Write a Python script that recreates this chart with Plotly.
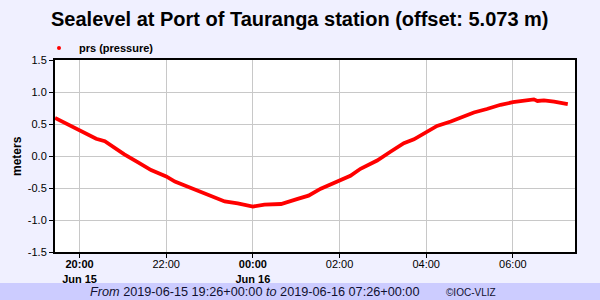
import plotly.graph_objects as go

# ---- data ----
times = [
    "2019-06-15 19:26", "2019-06-15 19:39", "2019-06-15 20:00", "2019-06-15 20:12",
    "2019-06-15 20:23", "2019-06-15 20:35", "2019-06-15 20:48", "2019-06-15 21:02",
    "2019-06-15 21:21", "2019-06-15 21:39", "2019-06-15 22:00", "2019-06-15 22:12",
    "2019-06-15 22:30", "2019-06-15 22:49", "2019-06-15 23:07", "2019-06-15 23:21",
    "2019-06-15 23:39", "2019-06-15 23:53", "2019-06-16 00:00", "2019-06-16 00:16",
    "2019-06-16 00:39", "2019-06-16 01:02", "2019-06-16 01:17", "2019-06-16 01:34",
    "2019-06-16 02:00", "2019-06-16 02:15", "2019-06-16 02:29", "2019-06-16 02:52",
    "2019-06-16 03:11", "2019-06-16 03:29", "2019-06-16 03:43", "2019-06-16 04:00",
    "2019-06-16 04:15", "2019-06-16 04:34", "2019-06-16 04:52", "2019-06-16 05:06",
    "2019-06-16 05:24", "2019-06-16 05:43", "2019-06-16 06:00", "2019-06-16 06:15",
    "2019-06-16 06:29", "2019-06-16 06:34", "2019-06-16 06:43", "2019-06-16 06:57",
    "2019-06-16 07:16",
]
sealevel = [
    0.595, 0.52, 0.40, 0.34,
    0.27, 0.23, 0.13, 0.025,
    -0.10, -0.22, -0.32, -0.40,
    -0.48, -0.57, -0.65, -0.71,
    -0.74, -0.77, -0.79, -0.76,
    -0.75, -0.67, -0.62, -0.51,
    -0.38, -0.31, -0.20, -0.07,
    0.07, 0.20, 0.26, 0.37,
    0.47, 0.54, 0.62, 0.68,
    0.735, 0.80, 0.84, 0.865,
    0.885, 0.86, 0.87, 0.85,
    0.81,
]
x_range = ["2019-06-15 19:26", "2019-06-16 07:26"]
x_tickvals = ["2019-06-15 20:00", "2019-06-15 22:00", "2019-06-16 00:00",
              "2019-06-16 02:00", "2019-06-16 04:00", "2019-06-16 06:00"]
x_ticktext = ["<b>20:00<br>Jun 15</b>", "22:00", "<b>00:00<br>Jun 16</b>",
              "02:00", "04:00", "06:00"]
y_tickvals = [-1.5, -1.0, -0.5, 0.0, 0.5, 1.0, 1.5]
y_ticktext = ["-1.5", "-1.0", "-0.5", "0.0", "0.5", "1.0", "1.5"]

title_text = "<b>Sealevel at Port of Tauranga station (offset: 5.073 m)</b>"
series_name = "<b>prs (pressure)</b>"
footer_text = "<i>From</i> 2019-06-15 19:26+00:00 <i>to</i> 2019-06-16 07:26+00:00"
credit_text = "©IOC-VLIZ"

FONT = "Liberation Sans, Arial, sans-serif"
BG = "#F0F0FF"
FOOT = "#CCCCFF"

W, H = 600, 300
L, R, T, B = 55, 25, 60, 48
PH = H - T - B  # plot height in px


def py(pix):
    """convert pixel y (from top) to paper y"""
    return (H - B - pix) / PH


def px(pix):
    return (pix - L) / (W - L - R)


fig = go.Figure()
fig.add_trace(go.Scatter(
    x=times, y=sealevel, mode="lines",
    line=dict(color="#FF0000", width=3.8),
    showlegend=False, hoverinfo="skip",
))
fig.add_trace(go.Scatter(
    x=[None], y=[None], mode="markers", name=series_name,
    marker=dict(color="#FF0000", size=4),
    showlegend=True,
))

fig.update_layout(
    width=W, height=H,
    margin=dict(l=L, r=R, t=T, b=B, pad=0),
    paper_bgcolor=BG, plot_bgcolor="white",
    font=dict(family=FONT, size=11, color="#000000"),
    showlegend=True,
    legend=dict(x=px(39), y=py(48), xanchor="left", yanchor="middle",
                bgcolor="rgba(0,0,0,0)", font=dict(size=11, color="#000000"),
                itemwidth=30, borderwidth=0),
    xaxis=dict(
        type="date", range=x_range,
        tickvals=x_tickvals, ticktext=x_ticktext,
        showgrid=True, gridcolor="#C8C8C8", gridwidth=1,
        showline=True, linecolor="black", linewidth=2, mirror=True,
        ticks="outside", ticklen=4, tickcolor="black", tickwidth=1,
        tickfont=dict(size=11, color="#000000"),
        ticklabelstandoff=-3,
        zeroline=False, fixedrange=True,
    ),
    yaxis=dict(
        range=[-1.5, 1.5],
        tickvals=y_tickvals, ticktext=y_ticktext,
        showgrid=True, gridcolor="#C8C8C8", gridwidth=1,
        showline=True, linecolor="black", linewidth=2, mirror=True,
        ticks="outside", ticklen=4, tickcolor="black", tickwidth=1,
        tickfont=dict(size=11, color="#000000"),
        zeroline=False, fixedrange=True,
    ),
    shapes=[dict(type="rect", xref="paper", yref="paper",
                 x0=px(0), x1=px(W), y0=py(H), y1=py(283),
                 fillcolor=FOOT, line=dict(width=0), layer="below")],
    annotations=[
        dict(text=title_text, xref="paper", yref="paper", x=px(300), y=py(19),
             xanchor="center", yanchor="middle", showarrow=False,
             font=dict(size=20, color="#000000", family=FONT)),
        dict(text="<b>meters</b>", xref="paper", yref="paper", x=px(17), y=py(156),
             xanchor="center", yanchor="middle", showarrow=False, textangle=-90,
             font=dict(size=12, color="#000000", family=FONT)),
        dict(text=footer_text, xref="paper", yref="paper", x=px(88), y=py(292),
             xanchor="left", yanchor="middle", showarrow=False,
             font=dict(size=12.7, color="#101030", family=FONT)),
        dict(text=credit_text, xref="paper", yref="paper", x=px(444), y=py(292),
             xanchor="left", yanchor="middle", showarrow=False,
             font=dict(size=10, color="#101030", family=FONT)),
    ],
)

fig.write_html("out.html")
